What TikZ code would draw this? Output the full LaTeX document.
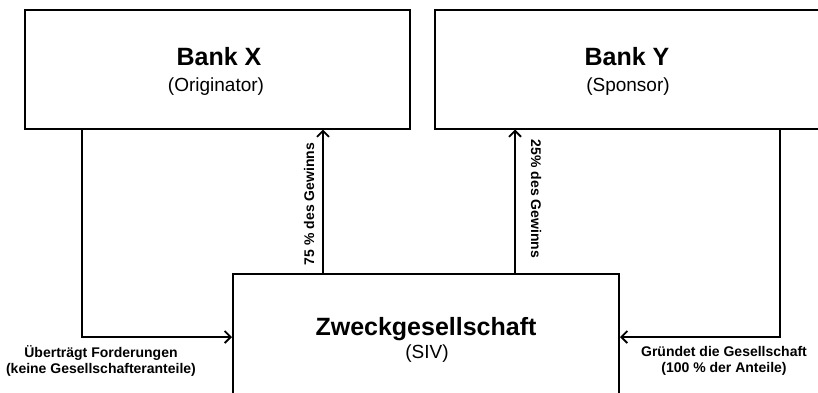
\documentclass[tikz,border=0pt]{standalone}
\usepackage{fontspec}
\setmainfont{Liberation Sans}
\usetikzlibrary{arrows.meta}
\begin{document}
\begin{tikzpicture}[x=1pt,y=-1pt,
  box/.style={draw=black, line width=2pt, inner sep=0pt, fill=white},
  ttl/.style={anchor=base, font=\fontsize{25}{30}\selectfont\bfseries},
  sub/.style={anchor=base, font=\fontsize{19}{23}\selectfont},
  lbl/.style={align=center, font=\fontsize{14}{16.5}\selectfont\bfseries, inner sep=0pt},
  arr/.style={draw=black, line width=1.8pt, -{Straight Barb[length=6pt,width=12pt]}}]
\useasboundingbox (0,0) rectangle (818,392);
\node[box, minimum width=385pt, minimum height=119pt] (bx) at (217.5,69) {};
\node[box, minimum width=386pt, minimum height=119pt] (by) at (628,69) {};
\node[box, minimum width=386pt, minimum height=130pt] (siv) at (426,339) {};
\node[ttl] (bxt) at (219,65) {Bank X};
\node[sub] (bxs) at (216,91.5) {(Originator)};
\node[ttl] (byt) at (627,65) {Bank Y};
\node[sub] (bys) at (628,91.5) {(Sponsor)};
\node[ttl] (sivt) at (426,335) {Zweckgesellschaft};
\node[sub] (sivs) at (427,358) {(SIV)};
\coordinate (c1) at (82,337);
\coordinate (c2) at (780,337);
\coordinate (a1) at (323,0);
\coordinate (a2) at (515,0);
\draw[arr] (bx.south -| c1) |- (siv.west |- c1);
\draw[arr] (by.south -| c2) |- (siv.east |- c2);
\draw[arr] (siv.north -| a1) -- (bx.south -| a1);
\draw[arr] (siv.north -| a2) -- (by.south -| a2);
\node[lbl, rotate=90] (l1) at (309,204) {75 \% des Gewinns};
\node[lbl, rotate=-90] (l2) at (536,199) {25\% des Gewinns};
\node[lbl] (l3) at (101,361) {Überträgt Forderungen\\(keine Gesellschafteranteile)};
\node[lbl] (l4) at (724,361) {Gründet die Gesellschaft\\(100 \% der Anteile)};
\end{tikzpicture}
\end{document}
